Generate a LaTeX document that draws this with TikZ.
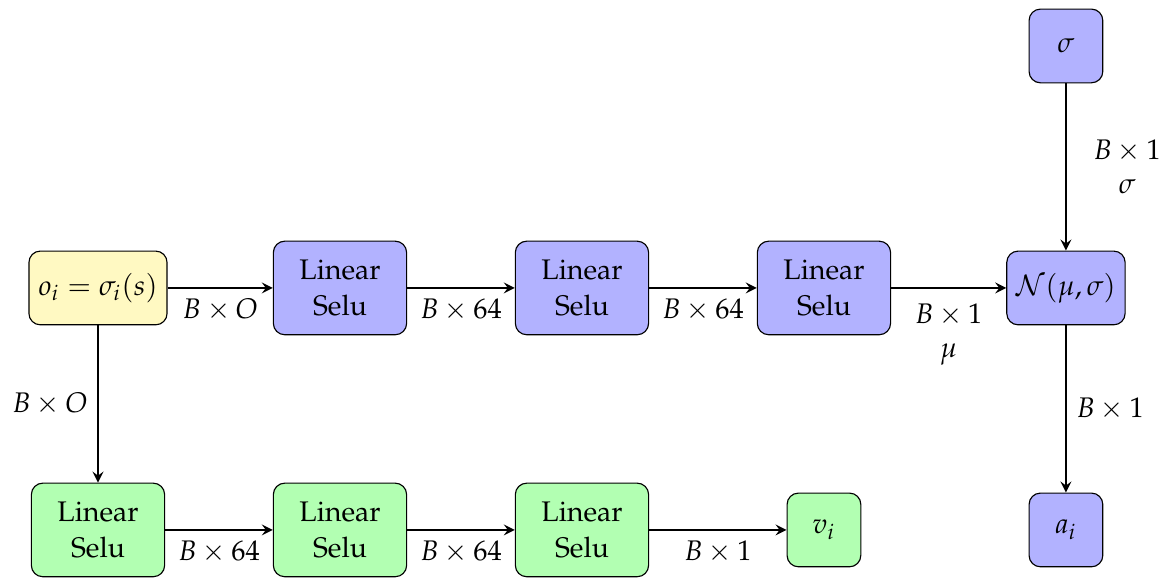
\documentclass[tikz,border=0pt]{standalone}
\usepackage[T1]{fontenc}
\usepackage{mathpazo}
\usetikzlibrary{arrows}
\definecolor{paleyellow}{RGB}{255,249,194}
\begin{document}
\begin{tikzpicture}[
  box/.style={draw=black, rounded corners=4pt, minimum width=26pt, minimum height=26pt, align=center},
  bluebox/.style={box, fill=blue!30},
  greenbox/.style={box, fill=green!30},
  yellowbox/.style={box, fill=paleyellow},
  linbox/.style={minimum width=47pt, minimum height=33pt},
  arr/.style={-stealth, line width=0.7pt}
]
\useasboundingbox (-1.215,-3.595) rectangle (13.315,3.57);
\node[yellowbox] (o) at (0,0) {$o_i=\sigma_i(s)$};
\node[bluebox,linbox] (l1) at (3,0) {Linear\\[1pt]Selu};
\node[bluebox,linbox] (l2) at (6,0) {Linear\\[1pt]Selu};
\node[bluebox,linbox] (l3) at (9,0) {Linear\\[1pt]Selu};
\node[bluebox] (N) at (12,0) {$\mathcal{N}(\mu,\sigma)$};
\node[bluebox] (s) at (12,3) {$\sigma$};
\node[bluebox] (a) at (12,-3) {$a_i$};
\node[greenbox,linbox] (g1) at (0,-3) {Linear\\[1pt]Selu};
\node[greenbox,linbox] (g2) at (3,-3) {Linear\\[1pt]Selu};
\node[greenbox,linbox] (g3) at (6,-3) {Linear\\[1pt]Selu};
\node[greenbox] (v) at (9,-3) {$v_i$};

\draw[arr] (o) -- node[below]{$B\times O$} (l1);
\draw[arr] (l1) -- node[below]{$B\times 64$} (l2);
\draw[arr] (l2) -- node[below]{$B\times 64$} (l3);
\draw[arr] (l3) -- node[below=2pt,align=center]{$B\times 1$\\$\mu$} (N);
\draw[arr] (s) -- node[right=6pt,align=center]{$B\times 1$\\$\sigma$} (N);
\draw[arr] (N) -- node[right]{$B\times 1$} (a);
\draw[arr] (o) -- node[left]{$B\times O$} (g1);
\draw[arr] (g1) -- node[below]{$B\times 64$} (g2);
\draw[arr] (g2) -- node[below]{$B\times 64$} (g3);
\draw[arr] (g3) -- node[below]{$B\times 1$} (v);
\end{tikzpicture}
\end{document}
